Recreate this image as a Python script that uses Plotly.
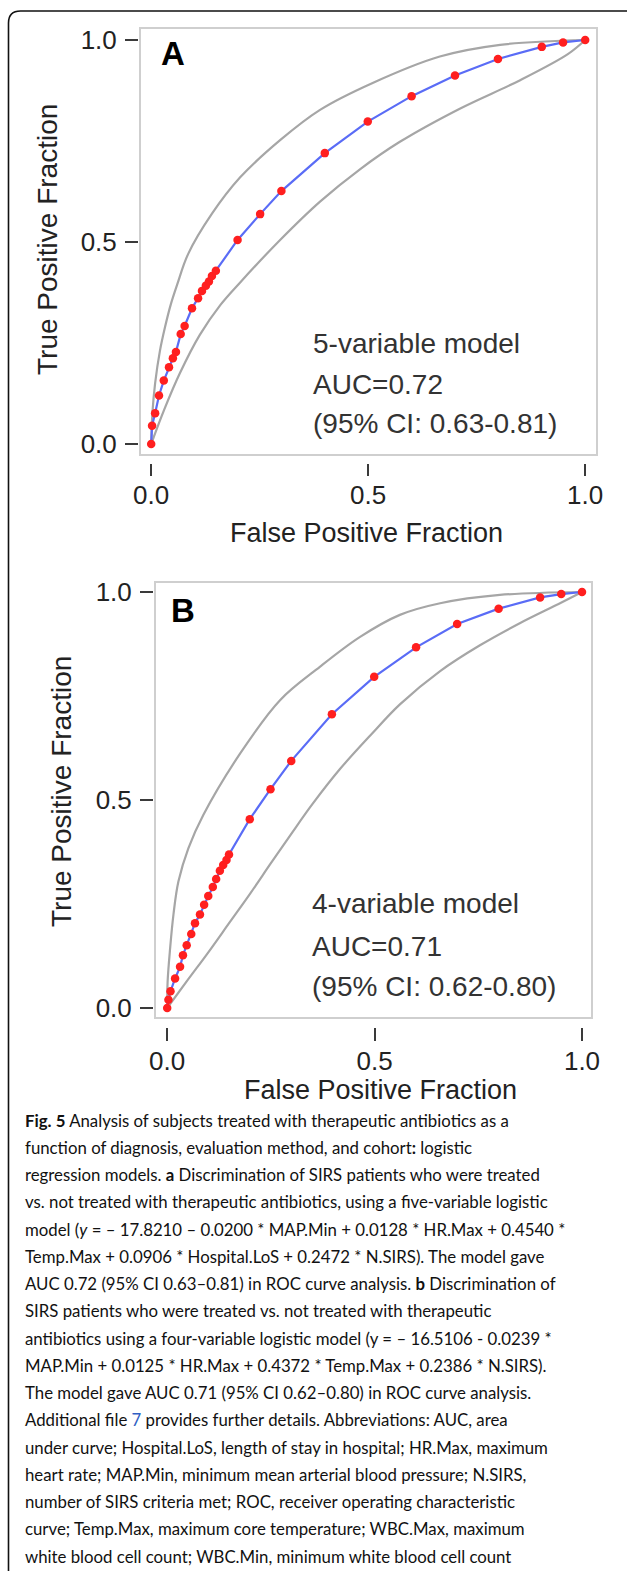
import plotly.graph_objects as go

# ---------------- data ----------------
A_fpr = [0.0, 0.002, 0.009, 0.018, 0.029, 0.041, 0.050, 0.057, 0.068, 0.077, 0.094, 0.108,
         0.117, 0.126, 0.133, 0.140, 0.149, 0.199, 0.251, 0.300, 0.400, 0.499, 0.600,
         0.700, 0.799, 0.900, 0.949, 1.0]
A_tpr = [0.0, 0.045, 0.076, 0.120, 0.157, 0.190, 0.212, 0.228, 0.272, 0.292, 0.336, 0.361,
         0.379, 0.392, 0.402, 0.416, 0.429, 0.505, 0.569, 0.626, 0.720, 0.798, 0.861,
         0.912, 0.953, 0.983, 0.994, 1.0]
A_up_fpr = [0.0, 0.003, 0.009, 0.020, 0.032, 0.045, 0.060, 0.085, 0.140, 0.205, 0.297,
            0.389, 0.509, 0.665, 0.804, 1.0]
A_up_tpr = [0.0, 0.080, 0.150, 0.230, 0.290, 0.345, 0.395, 0.470, 0.570, 0.660, 0.752,
            0.827, 0.893, 0.959, 0.988, 1.0]
A_lo_fpr = [0.0, 0.030, 0.066, 0.112, 0.160, 0.205, 0.297, 0.389, 0.481, 0.573, 0.711,
            0.849, 0.960, 1.0]
A_lo_tpr = [0.0, 0.085, 0.175, 0.270, 0.345, 0.400, 0.505, 0.600, 0.680, 0.748, 0.830,
            0.900, 0.965, 1.0]

B_fpr = [0.0, 0.003, 0.008, 0.019, 0.031, 0.038, 0.047, 0.058, 0.067, 0.079, 0.089, 0.099,
         0.110, 0.118, 0.127, 0.135, 0.143, 0.149, 0.199, 0.249, 0.299, 0.397, 0.499,
         0.600, 0.699, 0.799, 0.899, 0.950, 1.0]
B_tpr = [0.0, 0.020, 0.040, 0.071, 0.099, 0.127, 0.151, 0.178, 0.204, 0.225, 0.248, 0.269,
         0.291, 0.310, 0.330, 0.344, 0.356, 0.369, 0.454, 0.526, 0.594, 0.706, 0.796,
         0.867, 0.923, 0.960, 0.987, 0.995, 1.0]
B_up_fpr = [0.0, 0.001, 0.007, 0.015, 0.027, 0.051, 0.087, 0.176, 0.272, 0.368, 0.465,
            0.561, 0.658, 0.802, 1.0]
B_up_tpr = [0.0, 0.063, 0.143, 0.224, 0.304, 0.384, 0.464, 0.612, 0.740, 0.820, 0.892,
            0.945, 0.973, 0.993, 1.0]
B_lo_fpr = [0.0, 0.050, 0.100, 0.150, 0.200, 0.250, 0.300, 0.350, 0.417, 0.494, 0.561,
            0.658, 0.754, 0.850, 0.947, 1.0]
B_lo_tpr = [0.0, 0.068, 0.135, 0.205, 0.275, 0.348, 0.420, 0.490, 0.575, 0.660, 0.730,
            0.810, 0.872, 0.925, 0.973, 1.0]

tick_vals = [0.0, 0.5, 1.0]
tick_text = ["0.0", "0.5", "1.0"]
x_title = "False Positive Fraction"
y_title = "True Positive Fraction"
panel_letters = ["A", "B"]
A_text = ["5-variable model", "AUC=0.72", "(95% CI: 0.63-0.81)"]
B_text = ["4-variable model", "AUC=0.71", "(95% CI: 0.62-0.80)"]

caption_lines = [
    "<b>Fig. 5</b> Analysis of subjects treated with therapeutic antibiotics as a",
    "function of diagnosis, evaluation method, and cohort<b>:</b> logistic",
    "regression models. <b>a</b> Discrimination of SIRS patients who were treated",
    "vs. not treated with therapeutic antibiotics, using a five-variable logistic",
    "model (<i>y</i> = – 17.8210 – 0.0200 * MAP.Min + 0.0128 * HR.Max + 0.4540 *",
    "Temp.Max + 0.0906 * Hospital.LoS + 0.2472 * N.SIRS). The model gave",
    "AUC 0.72 (95% CI 0.63–0.81) in ROC curve analysis. <b>b</b> Discrimination of",
    "SIRS patients who were treated vs. not treated with therapeutic",
    "antibiotics using a four-variable logistic model (y = – 16.5106 - 0.0239 *",
    "MAP.Min + 0.0125 * HR.Max + 0.4372 * Temp.Max + 0.2386 * N.SIRS).",
    "The model gave AUC 0.71 (95% CI 0.62–0.80) in ROC curve analysis.",
    "Additional file <span style='color:#2f5fc4'>7</span> provides further details. Abbreviations: AUC, area",
    "under curve; Hospital.LoS, length of stay in hospital; HR.Max, maximum",
    "heart rate; MAP.Min, minimum mean arterial blood pressure; N.SIRS,",
    "number of SIRS criteria met; ROC, receiver operating characteristic",
    "curve; Temp.Max, maximum core temperature; WBC.Max, maximum",
    "white blood cell count; WBC.Min, minimum white blood cell count",
]

# ---------------- layout helpers ----------------
W, H = 627, 1571
def fx(p): return p / W          # page pixel -> paper x
def fy(p): return 1 - p / H      # page pixel -> paper y

PLOT_FONT = "Liberation Sans, Arial, sans-serif"
CAP_FONT = "Lato, Noto Sans, sans-serif"

panels = [
    dict(fpr=A_fpr, tpr=A_tpr, up=(A_up_fpr, A_up_tpr), lo=(A_lo_fpr, A_lo_tpr),
         box=(141, 29.3, 596, 454), x0=151.2, x1=585.2, y0=444, y1=40,
         xtick_pos=463, xticklen=12, ytick_pos=138, yticklen=13, xstand=-3,
         xtitle=(366, 533), ytitle=(48, 240), letter=(173, 53), text=A_text,
         text_x=311, text_y=[343, 384, 423]),
    dict(fpr=B_fpr, tpr=B_tpr, up=(B_up_fpr, B_up_tpr), lo=(B_lo_fpr, B_lo_tpr),
         box=(156, 582.7, 591, 1016.7), x0=167.2, x1=582, y0=1008, y1=592,
         xtick_pos=1027, xticklen=13, ytick_pos=153, yticklen=13, xstand=-2,
         xtitle=(380, 1090), ytitle=(61, 792), letter=(183, 610), text=B_text,
         text_x=310, text_y=[903, 946, 986]),
]

fig = go.Figure()
layout = dict(width=W, height=H, margin=dict(l=0, r=0, t=0, b=0, pad=0, autoexpand=False),
              paper_bgcolor="white", plot_bgcolor="white", showlegend=False)
annotations = []
GRAY = "#a6a6a6"
TICKC = "#3a3a3a"

for i, p in enumerate(panels):
    bl, bt, br, bb = p["box"]
    xr = [(bl - p["x0"]) / (p["x1"] - p["x0"]), (br - p["x0"]) / (p["x1"] - p["x0"])]
    yr = [(p["y0"] - bb) / (p["y0"] - p["y1"]), (p["y0"] - bt) / (p["y0"] - p["y1"])]
    n = 2 * i + 1
    xa, ya = f"x{'' if n == 1 else n}", f"y{'' if n == 1 else n}"
    xt, yt = f"x{n+1}", f"y{n+1}"
    xkey, ykey = f"xaxis{'' if n == 1 else n}", f"yaxis{'' if n == 1 else n}"
    common = dict(showgrid=False, zeroline=False, fixedrange=True, automargin=False)
    layout[xkey] = dict(domain=[fx(bl), fx(br)], range=xr, anchor=ya,
                        showline=True, mirror=True, linecolor="#cfcfcf", linewidth=2,
                        ticks="", showticklabels=False, **common)
    layout[ykey] = dict(domain=[fy(bb), fy(bt)], range=yr, anchor=xa,
                        showline=True, mirror=True, linecolor="#cfcfcf", linewidth=2,
                        ticks="", showticklabels=False, **common)
    # tick axes (detached from the box)
    layout[f"xaxis{n+1}"] = dict(overlaying=xa, anchor="free", position=fy(p["xtick_pos"]),
                                 side="bottom", range=xr, showline=False,
                                 ticks="outside", ticklen=p["xticklen"],
                                 tickwidth=2, tickcolor=TICKC, tickvals=tick_vals,
                                 ticktext=tick_text, ticklabelstandoff=p["xstand"],
                                 tickfont=dict(family=PLOT_FONT, size=26, color="#222"),
                                 **common)
    layout[f"yaxis{n+1}"] = dict(overlaying=ya, anchor="free", position=fx(p["ytick_pos"]),
                                 side="left", range=yr, showline=False,
                                 ticks="outside", ticklen=p["yticklen"],
                                 tickwidth=2, tickcolor=TICKC, tickvals=tick_vals,
                                 ticktext=tick_text, ticklabelstandoff=3,
                                 tickfont=dict(family=PLOT_FONT, size=26, color="#222"),
                                 **common)
    # invisible trace to register tick axes
    fig.add_trace(go.Scatter(x=p["fpr"], y=p["tpr"], xaxis=xt, yaxis=yt, mode="lines",
                             line=dict(color="rgba(0,0,0,0)"), hoverinfo="skip"))
    # CI bands
    for cx, cy in (p["up"], p["lo"]):
        fig.add_trace(go.Scatter(x=cx, y=cy, xaxis=xa, yaxis=ya, mode="lines",
                                 line=dict(color=GRAY, width=2.2, shape="spline", smoothing=1.0),
                                 hoverinfo="skip"))
    # ROC curve
    fig.add_trace(go.Scatter(x=p["fpr"], y=p["tpr"], xaxis=xa, yaxis=ya, mode="lines+markers",
                             line=dict(color="#5a6cf6", width=2.2),
                             marker=dict(color="#ff1f1f", size=8.5, line=dict(width=0)),
                             hoverinfo="skip"))
    # titles
    annotations.append(dict(text=x_title, xref="paper", yref="paper",
                            x=fx(p["xtitle"][0]), y=fy(p["xtitle"][1]),
                            xanchor="center", yanchor="middle", showarrow=False,
                            font=dict(family=PLOT_FONT, size=27, color="#222")))
    annotations.append(dict(text=y_title, xref="paper", yref="paper", textangle=-90,
                            x=fx(p["ytitle"][0]), y=fy(p["ytitle"][1]),
                            xanchor="center", yanchor="middle", showarrow=False,
                            font=dict(family=PLOT_FONT, size=28, color="#222")))
    annotations.append(dict(text=f"<b>{panel_letters[i]}</b>", xref="paper", yref="paper",
                            x=fx(p["letter"][0]), y=fy(p["letter"][1]),
                            xanchor="center", yanchor="middle", showarrow=False,
                            font=dict(family=PLOT_FONT, size=33, color="#000")))
    for t, ty in zip(p["text"], p["text_y"]):
        annotations.append(dict(text=t, xref="paper", yref="paper",
                                x=fx(p["text_x"]), y=fy(ty),
                                xanchor="left", yanchor="middle", showarrow=False,
                                font=dict(family=PLOT_FONT, size=28, color="#333")))

# caption
for k, line in enumerate(caption_lines):
    annotations.append(dict(text=line, xref="paper", yref="paper",
                            x=fx(23), y=fy(1120 + 27.25 * k),
                            xanchor="left", yanchor="middle", showarrow=False,
                            font=dict(family=CAP_FONT, size=16.8, color="#111")))

layout["annotations"] = annotations

# rounded border frame (page pixels); right side lies beyond the page edge
L, T, R, Bm, rad = 8.5, 11, 700, 1600, 12
path = (f"M {fx(L)},{fy(T+rad)} Q {fx(L)},{fy(T)} {fx(L+rad)},{fy(T)} "
        f"L {fx(R)},{fy(T)} L {fx(R)},{fy(Bm)} L {fx(L)},{fy(Bm)} Z")
layout["shapes"] = [dict(type="path", xref="paper", yref="paper", path=path,
                         line=dict(color="#111", width=1.6))]

fig.update_layout(**layout)
fig.write_html("out.html", config={"displayModeBar": False},
               post_script="document.body.style.margin='0';")
